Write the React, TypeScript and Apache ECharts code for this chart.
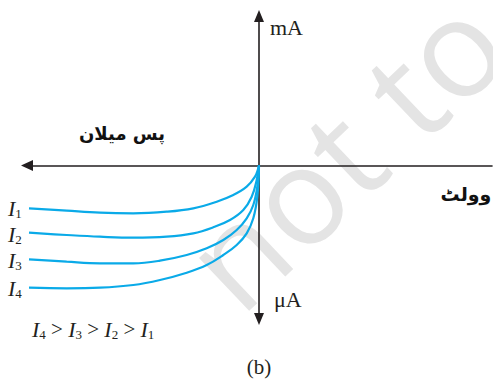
import React, { useEffect, useRef } from "react";
import * as echarts from "echarts";

// Reverse-bias characteristic: voltage (x) against current (y), in plot units.
const seriesNames = ["I1", "I2", "I3", "I4"];

const curveI1: [number, number][] = [
  [-23.0, -4.28], [-19.23, -4.52], [-15.9, -4.72], [-12.57, -4.78], [-9.23, -4.62],
  [-6.57, -4.28], [-4.23, -3.62], [-2.57, -2.95], [-1.23, -2.12], [-0.4, -1.12],
  [-0.07, -0.28], [0, 0],
];
const curveI2: [number, number][] = [
  [-23.0, -6.72], [-19.23, -6.95], [-15.9, -7.12], [-12.57, -7.22], [-9.23, -7.12],
  [-6.57, -6.78], [-4.57, -6.18], [-2.9, -5.45], [-1.57, -4.45], [-0.73, -3.12],
  [-0.23, -1.45], [0, 0],
];
const curveI3: [number, number][] = [
  [-23.0, -9.38], [-19.23, -9.62], [-15.9, -9.78], [-12.57, -9.78], [-9.9, -9.52],
  [-7.23, -8.95], [-5.23, -8.28], [-3.57, -7.45], [-2.23, -6.45], [-1.23, -5.28],
  [-0.57, -3.95], [-0.17, -2.12], [0, 0],
];
const curveI4: [number, number][] = [
  [-23.0, -12.22], [-19.23, -12.28], [-15.9, -12.22], [-12.57, -11.95], [-9.9, -11.45],
  [-7.23, -10.72], [-5.23, -9.95], [-3.57, -8.95], [-2.23, -7.95], [-1.23, -6.78],
  [-0.57, -5.28], [-0.17, -3.12], [0, 0],
];
const curves = [curveI1, curveI2, curveI3, curveI4];

const subscripts = ["1", "2", "3", "4"];
const orderText = "{i|I}{s|4}{o| > }{i|I}{s|3}{o| > }{i|I}{s|2}{o| > }{i|I}{s|1}";
const reverseBiasText = "پس میلان";
const voltText = "وولٹ";
const upperUnit = "mA";
const lowerUnit = "μA";
const captionText = "(b)";
const watermarkText = "not to";

const INK = "#231f20";
const CYAN = "#0aaae8";
const SERIF = "'Liberation Serif', 'DejaVu Serif', serif";

const richSub = {
  i: { fontFamily: SERIF, fontStyle: "italic", fontSize: 22, lineHeight: 24, verticalAlign: "middle", fill: INK },
  s: { fontFamily: SERIF, fontSize: 13, lineHeight: 13, verticalAlign: "bottom", fill: INK },
  o: { fontFamily: SERIF, fontSize: 21, lineHeight: 24, verticalAlign: "middle", fill: INK },
};

const labelRows = [208, 234, 260, 288];

export default function App() {
  const ref = useRef<HTMLDivElement>(null);

  useEffect(() => {
    if (!ref.current) return;
    const chart = echarts.init(ref.current, null, { renderer: "svg" });

    const axisCommon = {
      type: "value" as const,
      axisTick: { show: false },
      axisLabel: { show: false },
      splitLine: { show: false },
    };

    chart.setOption({
      animation: false,
      backgroundColor: "#ffffff",
      grid: { left: 27, right: 1, top: 16, bottom: 61, containLabel: false },
      xAxis: {
        ...axisCommon,
        min: -23.2,
        max: 23.3,
        axisLine: {
          onZero: true,
          symbol: ["triangle", "none"],
          symbolSize: [11, 12],
          lineStyle: { color: INK, width: 1.6 },
        },
      },
      yAxis: {
        ...axisCommon,
        min: -15.35,
        max: 14.95,
        axisLine: {
          onZero: true,
          symbol: ["triangle", "triangle"],
          symbolSize: [10, 12],
          lineStyle: { color: INK, width: 1.6 },
        },
      },
      graphic: [
        {
          type: "text",
          x: 342,
          y: 150,
          rotation: 0.76,
          z: -10,
          silent: true,
          style: {
            text: watermarkText,
            font: "500 136px 'Open Sans', 'DejaVu Sans', sans-serif",
            fill: "#e4e4e4",
            align: "center",
            verticalAlign: "middle",
          },
        },
        ...subscripts.map((s, k) => ({
          type: "text",
          x: 8,
          y: labelRows[k],
          style: {
            text: `{i|I}{s|${s}}`,
            rich: richSub,
            align: "left",
            verticalAlign: "middle",
          },
        })),
        {
          type: "text",
          x: 32,
          y: 329,
          style: { text: orderText, rich: richSub, align: "left", verticalAlign: "middle" },
        },
        {
          type: "text",
          x: 270,
          y: 27,
          style: { text: upperUnit, font: `22px ${SERIF}`, fill: INK, align: "left", verticalAlign: "middle" },
        },
        {
          type: "text",
          x: 274,
          y: 299,
          style: { text: lowerUnit, font: `22px ${SERIF}`, fill: INK, align: "left", verticalAlign: "middle" },
        },
        {
          type: "text",
          x: 259,
          y: 367,
          style: { text: captionText, font: `21px ${SERIF}`, fill: INK, align: "center", verticalAlign: "middle" },
        },
        {
          type: "text",
          x: 122,
          y: 133,
          style: { text: reverseBiasText, font: "bold 18px 'DejaVu Sans', sans-serif", fill: "#111111", align: "center", verticalAlign: "middle" },
        },
        {
          type: "text",
          x: 466,
          y: 194,
          style: { text: voltText, font: "bold 19px 'DejaVu Sans', sans-serif", fill: "#111111", align: "center", verticalAlign: "middle" },
        },
      ],
      series: curves.map((data, k) => ({
        name: seriesNames[k],
        type: "line",
        data,
        smooth: 0.4,
        showSymbol: false,
        lineStyle: { color: CYAN, width: 2.2 },
        z: 3,
      })),
    });

    return () => chart.dispose();
  }, []);

  return (
    <div
      ref={ref}
      style={{ position: "fixed", left: 0, top: 0, width: 493, height: 380, background: "#fff" }}
    />
  );
}
